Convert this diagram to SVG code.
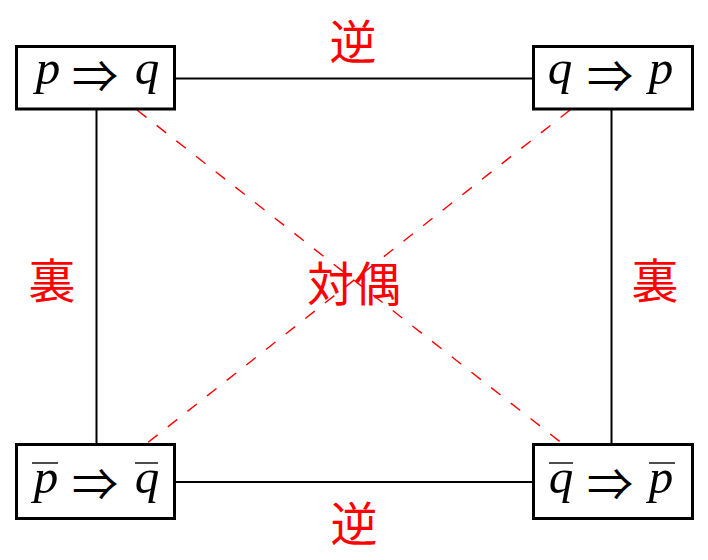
<svg xmlns="http://www.w3.org/2000/svg" width="708" height="560" viewBox="0 0 708 560">
<style>
.box{fill:#fff;stroke:#000;stroke-width:3}
.conn{stroke:#000;stroke-width:2;fill:none}
.dash{stroke:#f00;stroke-width:1.4;stroke-dasharray:12 13;fill:none}
.m{font-family:"Liberation Serif","DejaVu Serif",serif;font-style:italic;font-size:49px;text-anchor:middle;fill:#000}
.ar{font-family:"Noto Sans CJK JP",sans-serif;font-size:44px;fill:#000;dominant-baseline:central}
.ol{stroke:#000;stroke-width:1.4}
.jp{font-family:"Noto Sans CJK JP",sans-serif;font-size:47px;fill:#f00;text-anchor:middle;dominant-baseline:central}
</style>
<rect width="708" height="560" fill="#fff"/>
<g id="connectors">
<line class="conn" x1="175" y1="78.5" x2="533" y2="78.5"/>
<line class="conn" x1="175" y1="482" x2="533" y2="482"/>
<line class="conn" x1="96.5" y1="109" x2="96.5" y2="444"/>
<line class="conn" x1="611.5" y1="109" x2="611.5" y2="444"/>
<line class="dash" x1="137" y1="110" x2="563" y2="444"/>
<line class="dash" x1="570" y1="110" x2="146" y2="444"/>
</g>
<g id="label-converse-top"><text class="jp" x="353" y="38">逆</text></g>
<g id="label-converse-bottom"><text class="jp" x="354" y="520">逆</text></g>
<g id="label-inverse-left"><text class="jp" x="52" y="277">裏</text></g>
<g id="label-inverse-right"><text class="jp" x="655" y="277">裏</text></g>
<g id="label-contrapositive"><text class="jp" x="354" y="280">対偶</text></g>
<g id="node-pq">
<rect class="box" x="16.5" y="46.5" width="158" height="62.5"/>
<text class="m" x="48" y="84">p</text>
<text class="ar" x="72" y="74" textLength="46" lengthAdjust="spacingAndGlyphs">⇒</text>
<text class="m" x="147" y="84">q</text>
</g>
<g id="node-qp">
<rect class="box" x="533.5" y="46.5" width="159" height="62.5"/>
<text class="m" x="560" y="84">q</text>
<text class="ar" x="587" y="74" textLength="46" lengthAdjust="spacingAndGlyphs">⇒</text>
<text class="m" x="661" y="84">p</text>
</g>
<g id="node-npnq">
<rect class="box" x="16.5" y="444.5" width="158" height="74"/>
<line class="ol" x1="32" y1="463" x2="58" y2="463"/>
<text class="m" x="46" y="493">p</text>
<text class="ar" x="72" y="482" textLength="46" lengthAdjust="spacingAndGlyphs">⇒</text>
<line class="ol" x1="135" y1="463" x2="158" y2="463"/>
<text class="m" x="147" y="493">q</text>
</g>
<g id="node-nqnp">
<rect class="box" x="533.5" y="444.5" width="159" height="74"/>
<line class="ol" x1="549" y1="463" x2="573" y2="463"/>
<text class="m" x="561" y="493">q</text>
<text class="ar" x="587" y="482" textLength="46" lengthAdjust="spacingAndGlyphs">⇒</text>
<line class="ol" x1="649" y1="463" x2="675" y2="463"/>
<text class="m" x="661" y="493">p</text>
</g>
</svg>
